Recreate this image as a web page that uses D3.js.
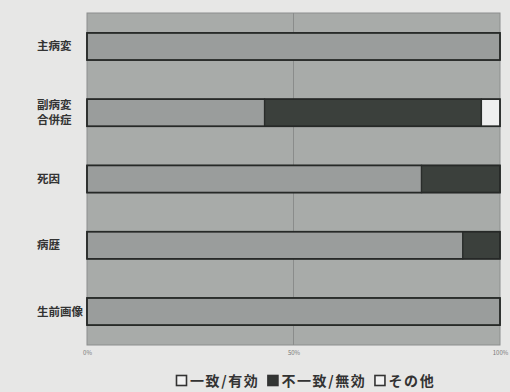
<!DOCTYPE html>
<html>
<head>
<meta charset="utf-8">
<script src="https://cdn.jsdelivr.net/npm/d3@7"></script>
<style>
  html, body { margin: 0; padding: 0; background: #e7e7e6; }
  svg { display: block; }
  text { font-family: "Noto Sans CJK JP", "Noto Sans", sans-serif; }
</style>
</head>
<body>
<svg id="chart" width="510" height="392"></svg>
<script>
// Categories (top to bottom); two-line labels use "\n"
const categories = ["主病変", "副病変\n合併症", "死因", "病歴", "生前画像"];
// Percentages per category for each result series
const agreeValues    = [100, 43, 81, 91, 100];   // 一致/有効
const disagreeValues = [0, 52.5, 19, 9, 0];       // 不一致/無効
const otherValues    = [0, 4.5, 0, 0, 0];         // その他
const seriesNames = ["一致/有効", "不一致/無効", "その他"];
const tickValues = [0, 50, 100];

const colors = ["#9a9d9c", "#3b403c", "#efefef"];

const svg = d3.select("#chart");
const margin = { left: 87, right: 10, top: 13, bottom: 47 };
const W = 510, H = 392;

const x = d3.scaleLinear().domain([0, 100]).range([margin.left, W - margin.right]);
const y = d3.scaleBand().domain(categories).range([margin.top, H - margin.bottom]).paddingInner(0.59).paddingOuter(0.3);

// plot background
svg.append("rect")
  .attr("x", x(0)).attr("y", margin.top)
  .attr("width", x(100) - x(0)).attr("height", H - margin.bottom - margin.top)
  .attr("fill", "#a8aba9").attr("stroke", "#8c8e8d").attr("stroke-width", 1);

// vertical gridline at 50%
svg.append("g")
  .selectAll("line").data([50]).join("line")
  .attr("x1", d => x(d)).attr("x2", d => x(d))
  .attr("y1", margin.top).attr("y2", H - margin.bottom)
  .attr("stroke", "#8a8c8b").attr("stroke-width", 1);

// stacked data
const rows = categories.map((c, i) => ({ cat: c, a: agreeValues[i], b: disagreeValues[i], c: otherValues[i] }));
const stack = d3.stack().keys(["a", "b", "c"])(rows);

const layers = svg.append("g").selectAll("g").data(stack).join("g")
  .attr("fill", (d, i) => colors[i]);
layers.selectAll("rect").data(d => d).join("rect")
  .attr("x", d => x(d[0]))
  .attr("y", d => y(d.data.cat))
  .attr("width", d => Math.max(0, x(d[1]) - x(d[0])))
  .attr("height", y.bandwidth())
  .attr("stroke", "#2a2d2b").attr("stroke-width", 1.3);

// bar outlines
svg.append("g").selectAll("rect").data(rows).join("rect")
  .attr("x", x(0)).attr("y", d => y(d.cat))
  .attr("width", x(100) - x(0)).attr("height", y.bandwidth())
  .attr("fill", "none").attr("stroke", "#262927").attr("stroke-width", 1.6);

// category labels
const lineGap = 15;
const labels = svg.append("g").selectAll("text").data(categories).join("text")
  .attr("x", 37)
  .attr("y", d => y(d) + y.bandwidth() / 2)
  .attr("font-size", 11.5).attr("font-weight", "bold").attr("fill", "#333");
labels.each(function(d) {
  const lines = d.split("\n");
  const t = d3.select(this);
  lines.forEach((ln, k) => {
    t.append("tspan").attr("x", 37)
      .attr("dy", k === 0 ? ((-(lines.length - 1) * lineGap) / 2 + 4) : lineGap)
      .text(ln);
  });
});

// x axis tick labels
const xAxis = d3.axisBottom(x).tickValues(tickValues).tickFormat(d => d + "%").tickSize(0).tickPadding(6);
const gx = svg.append("g").attr("transform", `translate(0,${H - margin.bottom})`).call(xAxis);
gx.select(".domain").remove();
gx.selectAll("text").attr("font-size", 6).attr("fill", "#777").attr("font-family", "Liberation Sans, Arial, sans-serif");

// legend
const legend = svg.append("g").attr("transform", "translate(176,386)");
const items = [
  { name: seriesNames[0], fill: "#f2f2f2" },
  { name: seriesNames[1], fill: "#333634" },
  { name: seriesNames[2], fill: "#f2f2f2" }
];
let lx = 0;
items.forEach(it => {
  legend.append("rect").attr("x", lx + 0.5).attr("y", -10.5).attr("width", 10).attr("height", 10)
    .attr("fill", it.fill).attr("stroke", "#333").attr("stroke-width", 1.6);
  const t = legend.append("text").attr("x", lx + 14).attr("y", 0)
    .attr("font-size", 14).attr("font-weight", "bold").attr("fill", "#333")
    .attr("letter-spacing", 1.6)
    .text(it.name);
  lx += 14 + t.node().getComputedTextLength() + 8;
});
</script>
</body>
</html>
